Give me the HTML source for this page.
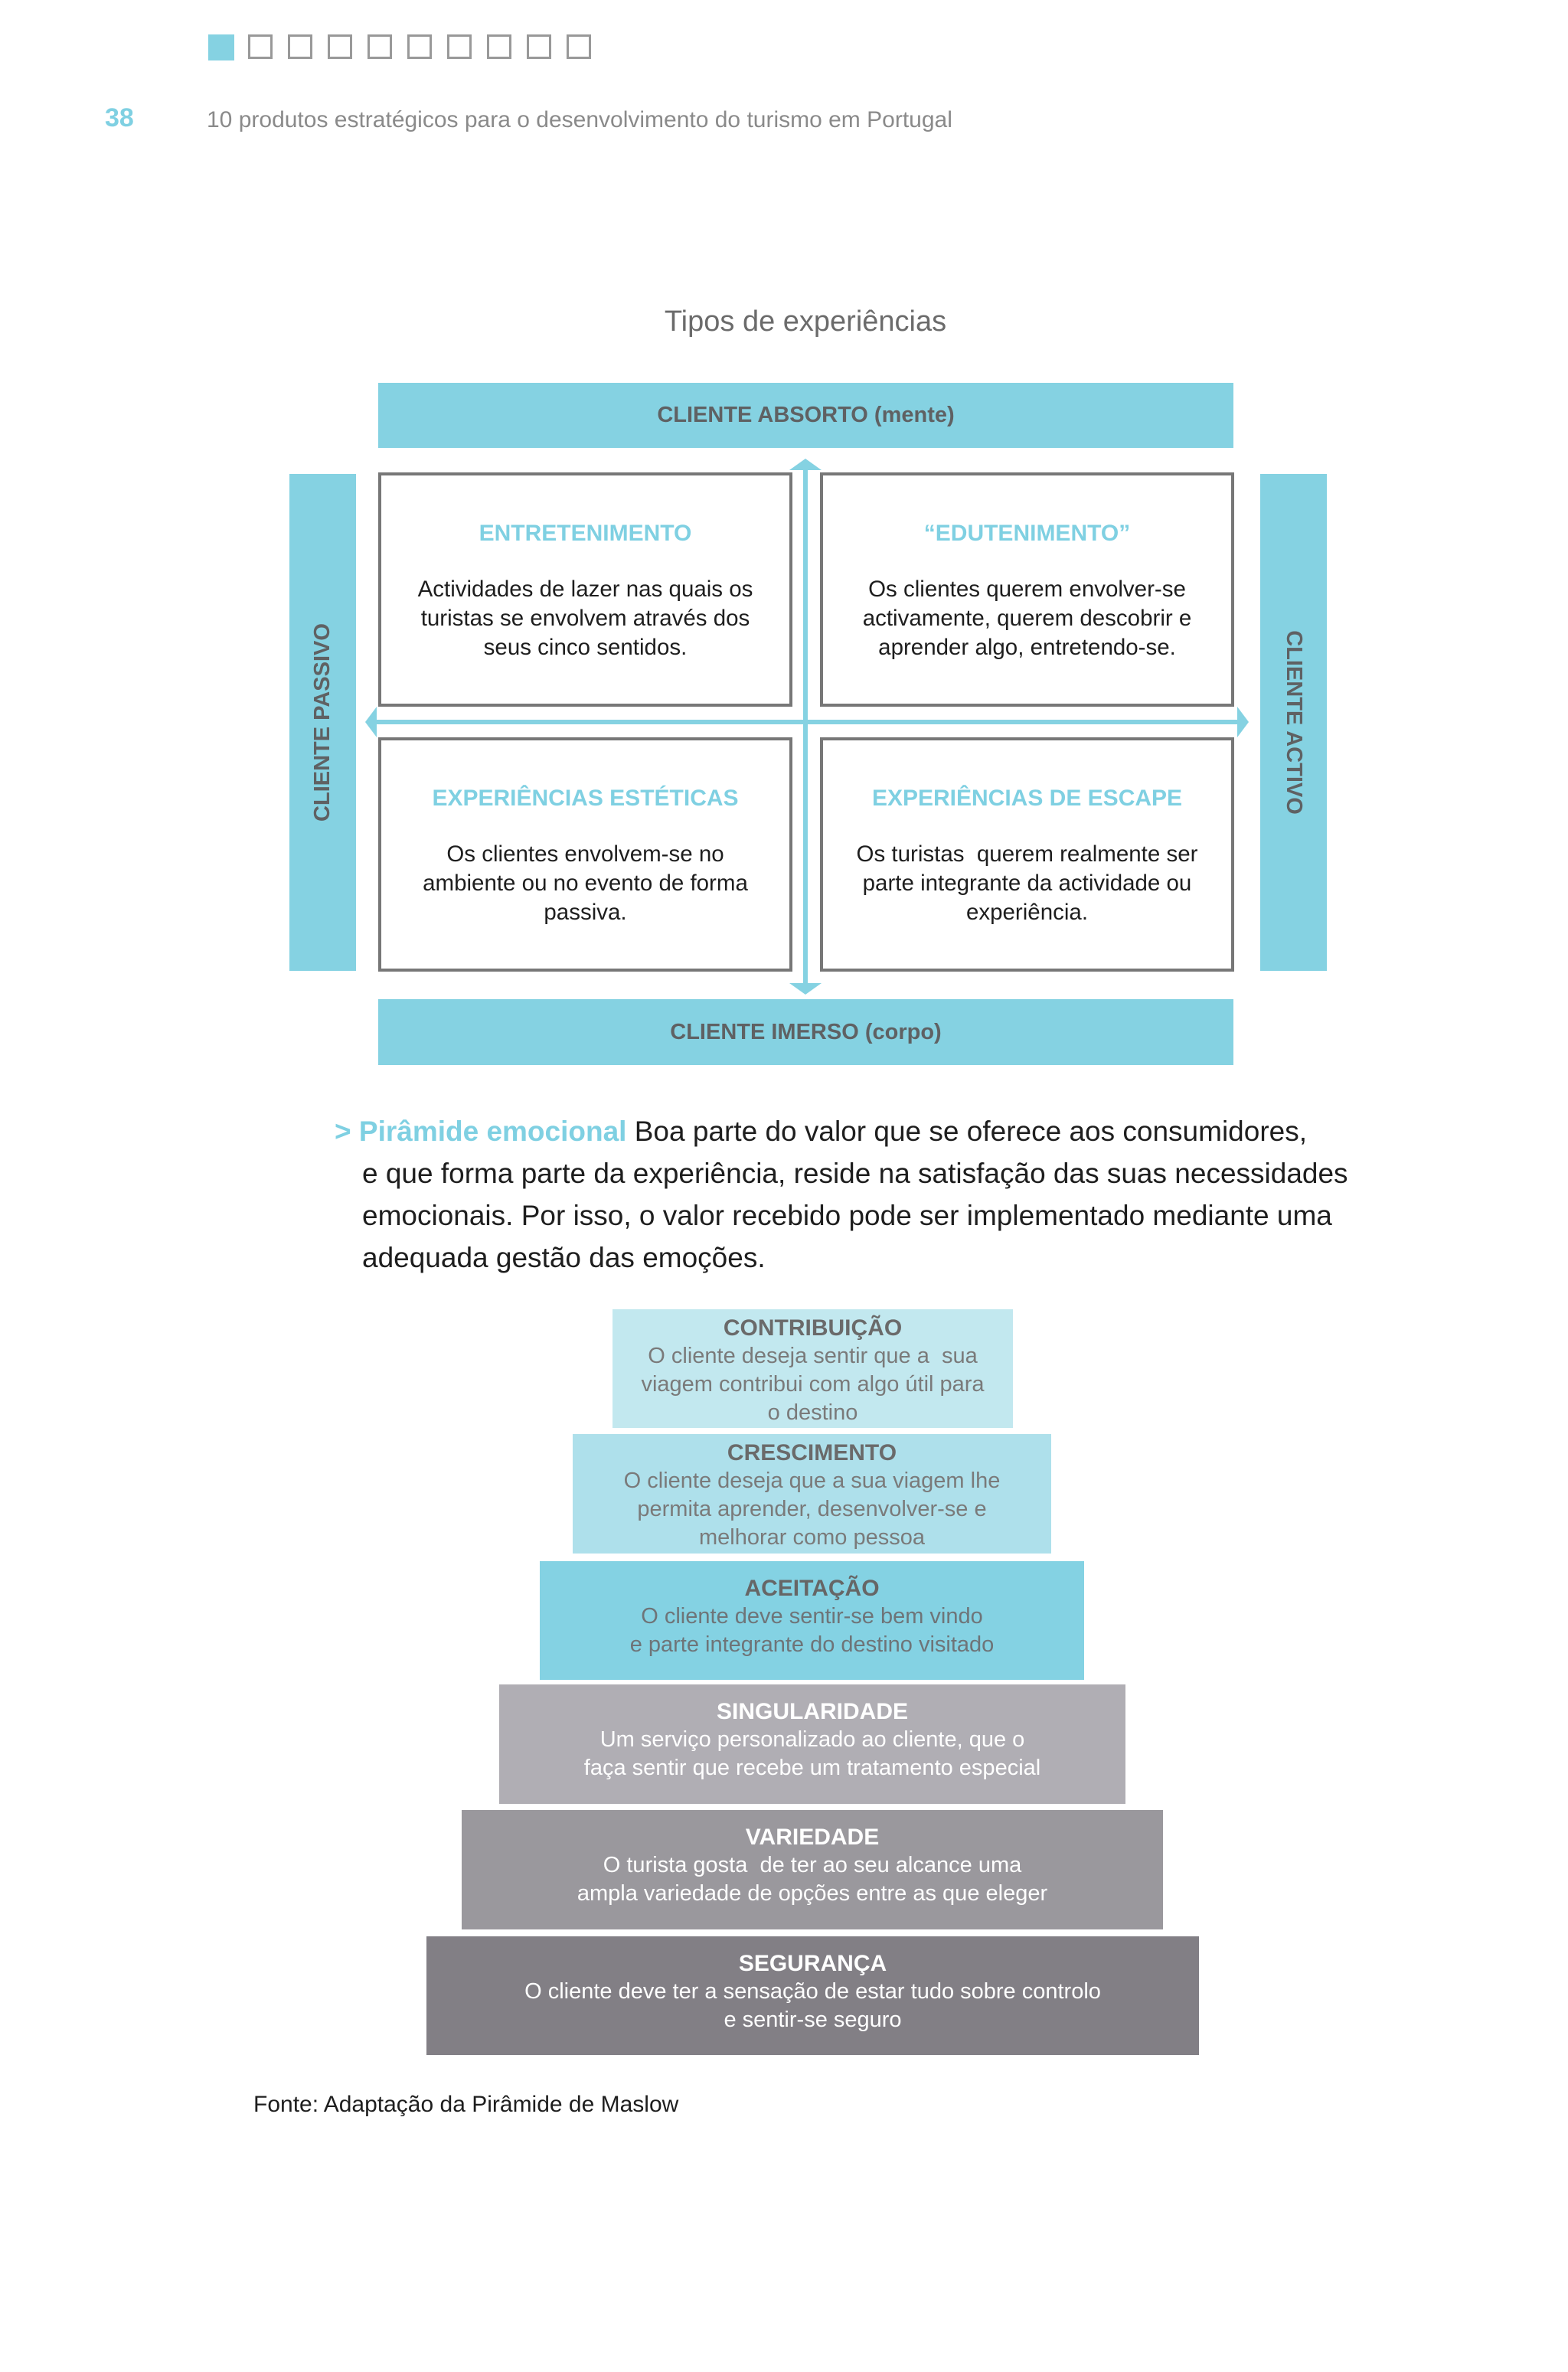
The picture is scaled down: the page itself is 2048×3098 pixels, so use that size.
<!DOCTYPE html>
<html><head><meta charset="utf-8"><style>
body{margin:0;width:2048px;height:3098px;background:#fff;position:relative;font-family:"Liberation Sans",sans-serif;overflow:hidden}
.a{position:absolute}
.sq{position:absolute;top:45px;width:32px;height:32px;border:3px solid #999;box-sizing:border-box}
.bar{position:absolute;background:#85d2e2;color:#5f6163;font-weight:bold;font-size:29px;display:flex;align-items:center;justify-content:center}
.box{position:absolute;border:4px solid #777;box-sizing:border-box;background:#fff;text-align:center;color:#1e1e1e;font-size:29.5px;line-height:38px}
.box h3{margin:58px 0 36px;color:#7fd0e2;font-size:30px;font-weight:bold;line-height:36px}
.pyr{position:absolute;text-align:center;font-size:29px;line-height:37px;box-sizing:border-box;padding-top:6px}
.pyr b{display:block;font-size:30px}
</style></head><body>
<div class="a" style="left:272px;top:45px;width:34px;height:34px;background:#85d2e2"></div>
<div class="sq" style="left:324px"></div><div class="sq" style="left:376px"></div><div class="sq" style="left:428px"></div><div class="sq" style="left:480px"></div><div class="sq" style="left:532px"></div><div class="sq" style="left:584px"></div><div class="sq" style="left:636px"></div><div class="sq" style="left:688px"></div><div class="sq" style="left:740px"></div>
<div class="a" style="left:137px;top:135px;font-size:34px;font-weight:bold;color:#7fd0e2">38</div>
<div class="a" style="left:270px;top:140px;font-size:30px;color:#8a8a8a">10 produtos estratégicos para o desenvolvimento do turismo em Portugal</div>
<div class="a" style="left:0;width:2104px;top:399px;text-align:center;font-size:38px;color:#6b6b6b">Tipos de experiências</div>

<div class="bar" style="left:494px;top:500px;width:1117px;height:85px">CLIENTE ABSORTO (mente)</div>
<div class="bar" style="left:494px;top:1305px;width:1117px;height:86px">CLIENTE IMERSO (corpo)</div>
<div class="bar" style="left:378px;top:619px;width:87px;height:649px"><span style="transform:rotate(-90deg);white-space:nowrap">CLIENTE PASSIVO</span></div>
<div class="bar" style="left:1646px;top:619px;width:87px;height:649px"><span style="transform:rotate(90deg);white-space:nowrap">CLIENTE ACTIVO</span></div>

<svg class="a" style="left:0;top:0" width="2048" height="1400">
<rect x="1049" y="610" width="6" height="680" fill="#85d2e2"/>
<polygon points="1031,614 1052,599 1073,614" fill="#85d2e2"/>
<polygon points="1031,1284 1052,1299 1073,1284" fill="#85d2e2"/>
<rect x="485" y="940" width="1138" height="6" fill="#85d2e2"/>
<polygon points="492,923 477,943 492,963" fill="#85d2e2"/>
<polygon points="1616,923 1631,943 1616,963" fill="#85d2e2"/>
</svg>

<div class="box" style="left:494px;top:617px;width:541px;height:306px"><h3>ENTRETENIMENTO</h3>Actividades de lazer nas quais os<br>turistas se envolvem através dos<br>seus cinco sentidos.</div>
<div class="box" style="left:1071px;top:617px;width:541px;height:306px"><h3>“EDUTENIMENTO”</h3>Os clientes querem envolver-se<br>activamente, querem descobrir e<br>aprender algo, entretendo-se.</div>
<div class="box" style="left:494px;top:963px;width:541px;height:306px"><h3>EXPERIÊNCIAS ESTÉTICAS</h3>Os clientes envolvem-se no<br>ambiente ou no evento de forma<br>passiva.</div>
<div class="box" style="left:1071px;top:963px;width:541px;height:306px"><h3>EXPERIÊNCIAS DE ESCAPE</h3>Os turistas &nbsp;querem realmente ser<br>parte integrante da actividade ou<br>experiência.</div>

<div class="a" style="left:437px;top:1450px;width:1400px;font-size:37px;line-height:55px;color:#1e1e1e"><span style="color:#7fd0e2;font-weight:bold">&gt; Pirâmide emocional</span> Boa parte do valor que se oferece aos consumidores,<div style="padding-left:36px">e que forma parte da experiência, reside na satisfação das suas necessidades<br>emocionais. Por isso, o valor recebido pode ser implementado mediante uma<br>adequada gestão das emoções.</div></div>

<div class="pyr" style="left:800px;top:1710px;width:523px;height:155px;background:#c2e8ef;color:#7a7a7a"><b style="color:#6a6a6a">CONTRIBUIÇÃO</b>O cliente deseja sentir que a &nbsp;sua<br>viagem contribui com algo útil para<br>o destino</div>
<div class="pyr" style="left:748px;top:1873px;width:625px;height:156px;background:#aee0eb;color:#7a7a7a"><b style="color:#6a6a6a">CRESCIMENTO</b>O cliente deseja que a sua viagem lhe<br>permita aprender, desenvolver-se e<br>melhorar como pessoa</div>
<div class="pyr" style="left:705px;top:2039px;width:711px;height:155px;background:#84d2e3;color:#6e7478;padding-top:17px"><b style="color:#666">ACEITAÇÃO</b>O cliente deve sentir-se bem vindo<br>e parte integrante do destino visitado</div>
<div class="pyr" style="left:652px;top:2200px;width:818px;height:156px;background:#b0aeb4;color:#fff;padding-top:17px"><b>SINGULARIDADE</b>Um serviço personalizado ao cliente, que o<br>faça sentir que recebe um tratamento especial</div>
<div class="pyr" style="left:603px;top:2364px;width:916px;height:156px;background:#9a989d;color:#fff;padding-top:17px"><b>VARIEDADE</b>O turista gosta &nbsp;de ter ao seu alcance uma<br>ampla variedade de opções entre as que eleger</div>
<div class="pyr" style="left:557px;top:2529px;width:1009px;height:155px;background:#827f85;color:#fff;padding-top:17px"><b>SEGURANÇA</b>O cliente deve ter a sensação de estar tudo sobre controlo<br>e sentir-se seguro</div>

<div class="a" style="left:331px;top:2732px;font-size:30px;color:#1e1e1e">Fonte: Adaptação da Pirâmide de Maslow</div>
</body></html>
